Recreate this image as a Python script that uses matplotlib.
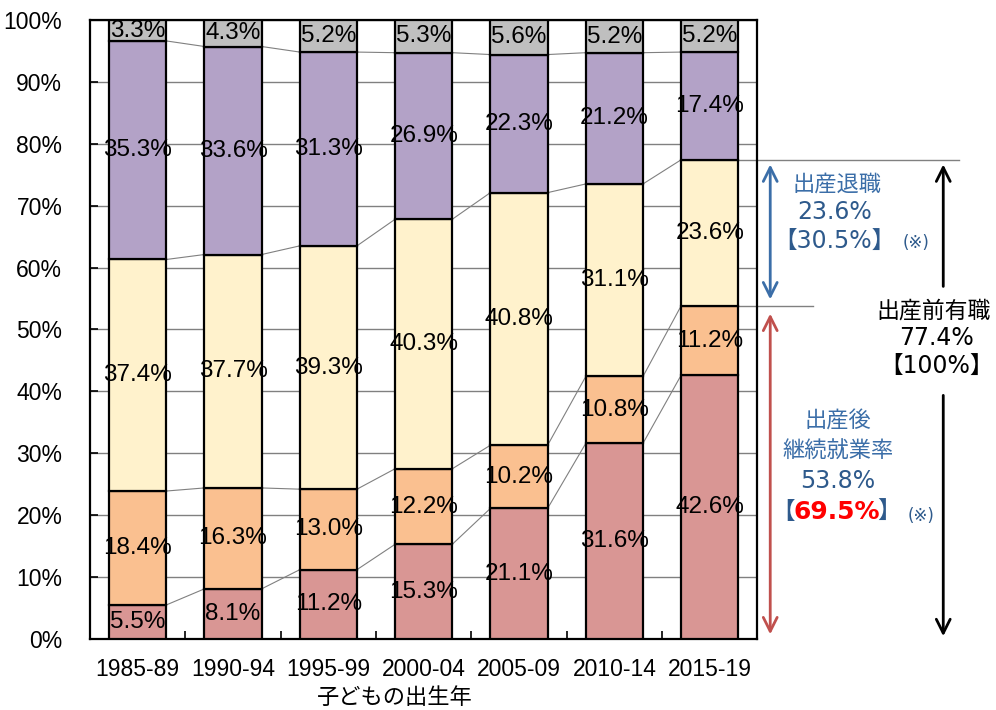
import matplotlib
matplotlib.use("Agg")
import matplotlib.pyplot as plt
import numpy as np

plt.rcParams['font.family'] = ['Liberation Sans', 'Noto Sans CJK JP', 'DejaVu Sans']
JP = ['Noto Sans CJK JP', 'DejaVu Sans']
NUM = ['DejaVu Sans', 'Noto Sans CJK JP']

# Data goes here
years = ['1985-89', '1990-94', '1995-99', '2000-04', '2005-09', '2010-14', '2015-19']
keizoku_ikukyu = [5.5, 8.1, 11.2, 15.3, 21.1, 31.6, 42.6]      # pink
keizoku_nashi = [18.4, 16.3, 13.0, 12.2, 10.2, 10.8, 11.2]     # orange
taishoku = [37.4, 37.7, 39.3, 40.3, 40.8, 31.1, 23.6]          # yellow
mushoku = [35.3, 33.6, 31.3, 26.9, 22.3, 21.2, 17.4]           # purple
fumei = [3.3, 4.3, 5.2, 5.3, 5.6, 5.2, 5.2]                    # gray

series = [keizoku_ikukyu, keizoku_nashi, taishoku, mushoku, fumei]
colors = ['#D99694', '#FAC090', '#FFF2CC', '#B3A2C7', '#BFBFBF']

fig = plt.figure(figsize=(9.96, 7.10), dpi=100)
ax = fig.add_axes([0.0904, 0.100, 0.670, 0.872])

x = np.arange(len(years))
w = 0.6
bottom = np.zeros(len(years))
tops = []
for vals, c in zip(series, colors):
    vals = np.array(vals)
    ax.bar(x, vals, w, bottom=bottom, color=c, edgecolor='black', linewidth=1.6, zorder=3)
    for i, v in enumerate(vals):
        ax.text(x[i], bottom[i] + v / 2, f"{v:.1f}%", ha='center', va='center',
                fontsize=17.5, zorder=5)
    bottom = bottom + vals
    tops.append(bottom.copy())

# connecting lines between bars
for t in tops[:-1]:
    for i in range(len(years) - 1):
        ax.plot([x[i] + w / 2, x[i + 1] - w / 2], [t[i], t[i + 1]],
                color='#808080', lw=0.8, zorder=2)

ax.set_xlim(-0.5, 6.5)
ax.set_ylim(0, 100)
ax.set_yticks(np.arange(0, 101, 10))
ax.set_yticklabels([f"{v}%" for v in range(0, 101, 10)], fontsize=16.5)
ax.set_xticks(x)
ax.set_xticklabels(years, fontsize=16.5)
ax.set_xticks(np.arange(0.5, 6.5, 1), minor=True)
ax.tick_params(axis='x', which='major', length=0, pad=14)
ax.tick_params(axis='x', which='minor', direction='in', length=6, width=1.2)
ax.tick_params(axis='y', direction='in', length=6, width=1.2, pad=20)
ax.yaxis.grid(True, color='#808080', lw=1, zorder=0)
ax.set_axisbelow(True)
for s in ax.spines.values():
    s.set_linewidth(1.6)

fig.text(0.396, 1 - 697 / 710, '子どもの出生年', ha='center', va='center', fontsize=16, family=JP)

# right-hand annotations
last = len(years) - 1
y_all = tops[1][last] + taishoku[last]   # 77.4
y_keep = tops[1][last]                    # 53.8
ax.plot([x[last] + w / 2, 8.62], [y_all, y_all], color='#808080', lw=1, clip_on=False)
ax.plot([x[last] + w / 2, 7.08], [y_keep, y_keep], color='#808080', lw=1, clip_on=False)

blue = '#3B6EA8'
red = '#C0504D'
ax.annotate('', xy=(6.635, y_all - 0.3), xytext=(6.635, y_keep + 0.6),
            arrowprops=dict(arrowstyle='<->', color=blue, lw=2, mutation_scale=25),
            annotation_clip=False)
ax.annotate('', xy=(6.635, y_keep - 0.8), xytext=(6.635, 0.3),
            arrowprops=dict(arrowstyle='<->', color=red, lw=2, mutation_scale=25),
            annotation_clip=False)
ax.annotate('', xy=(8.45, y_all - 0.3), xytext=(8.45, 56.5),
            arrowprops=dict(arrowstyle='->', color='black', lw=2, mutation_scale=25),
            annotation_clip=False)
ax.annotate('', xy=(8.45, 0), xytext=(8.45, 39.8),
            arrowprops=dict(arrowstyle='->', color='black', lw=2, mutation_scale=25),
            annotation_clip=False)

dark_blue = '#2E5A8C'
fig.text(0.840, 1 - 184 / 710, '出産退職', ha='center', va='center', fontsize=16,
         color=blue, family=JP)
fig.text(0.838, 1 - 212 / 710, '23.6%', ha='center', va='center', fontsize=17,
         color=dark_blue, family=NUM)
fig.text(0.838, 1 - 241 / 710, '【30.5%】', ha='center', va='center', fontsize=17,
         color=dark_blue, family=NUM)
fig.text(0.920, 1 - 243 / 710, '(※)', ha='center', va='center', fontsize=12,
         color=dark_blue, family=NUM)

fig.text(0.937, 1 - 311 / 710, '出産前有職', ha='center', va='center', fontsize=16.5, family=JP)
fig.text(0.940, 1 - 338 / 710, '77.4%', ha='center', va='center', fontsize=17, family=NUM)
fig.text(0.940, 1 - 366 / 710, '【100%】', ha='center', va='center', fontsize=17, family=NUM)

fig.text(0.841, 1 - 421 / 710, '出産後', ha='center', va='center', fontsize=16,
         color=blue, family=JP)
fig.text(0.841, 1 - 451 / 710, '継続就業率', ha='center', va='center', fontsize=16,
         color=blue, family=JP)
fig.text(0.841, 1 - 481 / 710, '53.8%', ha='center', va='center', fontsize=17,
         color=dark_blue, family=NUM)
fig.text(0.786, 1 - 512 / 710, '【', ha='center', va='center', fontsize=17,
         color=dark_blue, family=NUM)
fig.text(0.840, 1 - 512 / 710, '69.5%', ha='center', va='center', fontsize=18,
         color='#FF0000', fontweight='bold', family=NUM)
fig.text(0.893, 1 - 512 / 710, '】', ha='center', va='center', fontsize=17,
         color=dark_blue, family=NUM)
fig.text(0.925, 1 - 516 / 710, '(※)', ha='center', va='center', fontsize=12,
         color=dark_blue, family=NUM)

fig.savefig('out.png', dpi=100)
